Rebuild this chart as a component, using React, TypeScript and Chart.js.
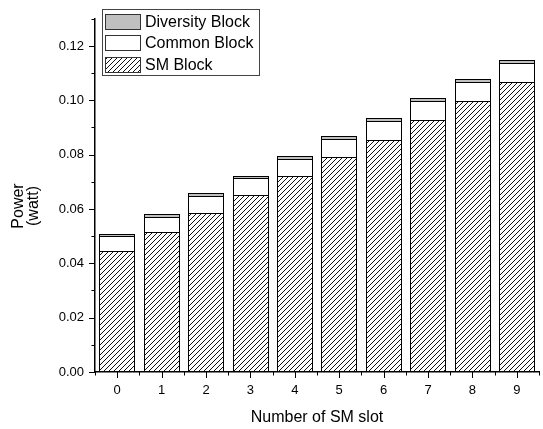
import React, { useEffect, useRef } from 'react';
import { Chart, registerables } from 'chart.js';

Chart.register(...registerables);

const categories = ['0', '1', '2', '3', '4', '5', '6', '7', '8', '9'];
const smBlock = [0.0445, 0.0517, 0.0587, 0.0651, 0.0721, 0.0793, 0.0855, 0.0928, 0.0999, 0.1066];
const commonBlock = [0.0055, 0.0053, 0.0059, 0.0062, 0.0063, 0.0064, 0.0068, 0.007, 0.007, 0.0072];
const diversityBlock = [0.0008, 0.0011, 0.0012, 0.001, 0.0011, 0.0011, 0.0011, 0.0012, 0.0011, 0.0012];
const yTickValues = [0, 0.02, 0.04, 0.06, 0.08, 0.1, 0.12];
const yMinorTickValues = [0.01, 0.03, 0.05, 0.07, 0.09, 0.11, 0.13];
const xTitle = 'Number of SM slot';
const yTitle = ['Power', '(watt)'];
const legendLabels = ['Diversity Block', 'Common Block', 'SM Block'];

const W = 543;
const H = 429;
const FONT = '"Liberation Sans", Arial, sans-serif';

function makeHatch(): CanvasPattern | string {
  const s = 5;
  const c = document.createElement('canvas');
  c.width = s;
  c.height = s;
  const g = c.getContext('2d');
  if (!g) return '#fff';
  g.fillStyle = '#fff';
  g.fillRect(0, 0, s, s);
  g.fillStyle = '#111';
  for (let i = 0; i < s; i++) g.fillRect(i, s - 1 - i, 1, 1);
  const p = g.createPattern(c, 'repeat');
  return p || '#fff';
}

export default function App() {
  const ref = useRef<HTMLCanvasElement | null>(null);

  useEffect(() => {
    const canvas = ref.current;
    if (!canvas) return;
    const hatch = makeHatch();
    const fills = ['#c0c0c0', '#ffffff', hatch];

    const snap = {
      id: 'snap',
      beforeDatasetsDraw(chart: any) {
        chart.data.datasets.forEach((_d: any, di: number) => {
          const meta = chart.getDatasetMeta(di);
          meta.data.forEach((el: any) => {
            const w = Math.round(el.width);
            const l = Math.round(el.x - el.width / 2);
            el.width = w;
            el.x = l + w / 2;
            el.y = Math.round(el.y);
            el.base = Math.round(el.base) + (di > 0 ? 1 : 0);
          });
        });
      },
    };

    const decor = {
      id: 'decor',
      afterDraw(chart: any) {
        const ctx = chart.ctx as CanvasRenderingContext2D;
        const xs = chart.scales.x;
        const ys = chart.scales.y;
        const { left, right, bottom } = chart.chartArea;
        ctx.save();
        ctx.strokeStyle = '#000';
        ctx.lineWidth = 1;
        ctx.beginPath();
        yTickValues.forEach((v) => {
          const y = Math.round(ys.getPixelForValue(v)) + 0.5;
          ctx.moveTo(left - 6, y);
          ctx.lineTo(left, y);
        });
        yMinorTickValues.forEach((v) => {
          const y = Math.round(ys.getPixelForValue(v)) + 0.5;
          ctx.moveTo(left - 3.5, y);
          ctx.lineTo(left, y);
        });
        const n = categories.length;
        const step = (right - left) / n;
        for (let i = 0; i < n; i++) {
          const x = Math.round(xs.getPixelForValue(i)) + 0.5;
          ctx.moveTo(x, bottom);
          ctx.lineTo(x, bottom + 6);
        }
        for (let i = 0; i <= n; i++) {
          const x = Math.round(left + i * step) + 0.5;
          ctx.moveTo(x, bottom);
          ctx.lineTo(x, bottom + 3.5);
        }
        ctx.stroke();

        // legend
        const bx = 102.5, by = 9.5, bw = 157, bh = 66;
        ctx.fillStyle = '#fff';
        ctx.fillRect(bx, by, bw, bh);
        ctx.strokeStyle = '#444';
        ctx.strokeRect(bx, by, bw, bh);
        ctx.font = `16px ${FONT}`;
        ctx.textBaseline = 'middle';
        ctx.textAlign = 'left';
        legendLabels.forEach((lab, i) => {
          const ry = Math.round(13.5 + i * 21.7) + 0.5;
          ctx.fillStyle = fills[i] as any;
          ctx.fillRect(105.5, ry, 35, 15);
          ctx.strokeStyle = '#333';
          ctx.strokeRect(105.5, ry, 35, 15);
          ctx.fillStyle = '#000';
          ctx.fillText(lab, 145, ry + 8);
        });

        // axis titles
        ctx.fillStyle = '#000';
        ctx.textAlign = 'center';
        ctx.textBaseline = 'middle';
        ctx.font = `16px ${FONT}`;
        ctx.fillText(xTitle, (left + right) / 2, 418);
        const yc = 206;
        const xPos = [19, 34];
        yTitle.forEach((t, i) => {
          ctx.save();
          ctx.translate(xPos[i], yc);
          ctx.rotate(-Math.PI / 2);
          ctx.fillText(t, 0, 0);
          ctx.restore();
        });
        ctx.restore();
      },
    };

    const common = {
      borderColor: '#000',
      borderWidth: 1,
      borderSkipped: false as const,
      barPercentage: 0.8,
      categoryPercentage: 1,
    };

    const chart = new Chart(canvas, {
      type: 'bar',
      data: {
        labels: categories,
        datasets: [
          { label: legendLabels[2], data: smBlock, backgroundColor: hatch as any, ...common },
          { label: legendLabels[1], data: commonBlock, backgroundColor: '#ffffff', ...common },
          { label: legendLabels[0], data: diversityBlock, backgroundColor: '#c0c0c0', ...common },
        ],
      },
      options: {
        animation: false,
        responsive: false,
        devicePixelRatio: 1,
        layout: { padding: { top: 8, right: 4, left: 0, bottom: 0 } },
        plugins: { legend: { display: false }, tooltip: { enabled: false } },
        scales: {
          x: {
            stacked: true,
            offset: true,
            grid: { display: false, drawTicks: false },
            border: { display: true, color: '#000', width: 1.5 },
            ticks: { color: '#000', font: { size: 13, family: FONT }, padding: 11, maxRotation: 0 },
            afterFit: (s: any) => {
              s.height = 57;
            },
          },
          y: {
            stacked: true,
            min: 0,
            max: 0.13,
            grid: { display: false, drawTicks: false },
            border: { display: true, color: '#000', width: 1.5 },
            afterBuildTicks: (s: any) => {
              s.ticks = yTickValues.map((v) => ({ value: v }));
            },
            ticks: {
              color: '#000',
              font: { size: 13, family: FONT },
              padding: 11,
              callback: (v: any) => Number(v).toFixed(2),
            },
            afterFit: (s: any) => {
              s.width = 95;
            },
          },
        },
      },
      plugins: [snap, decor],
    });
    return () => chart.destroy();
  }, []);

  return (
    <div style={{ position: 'absolute', left: 0, top: 0, width: W, height: H }}>
      <canvas ref={ref} width={W} height={H} style={{ display: 'block', width: W, height: H }} />
    </div>
  );
}
